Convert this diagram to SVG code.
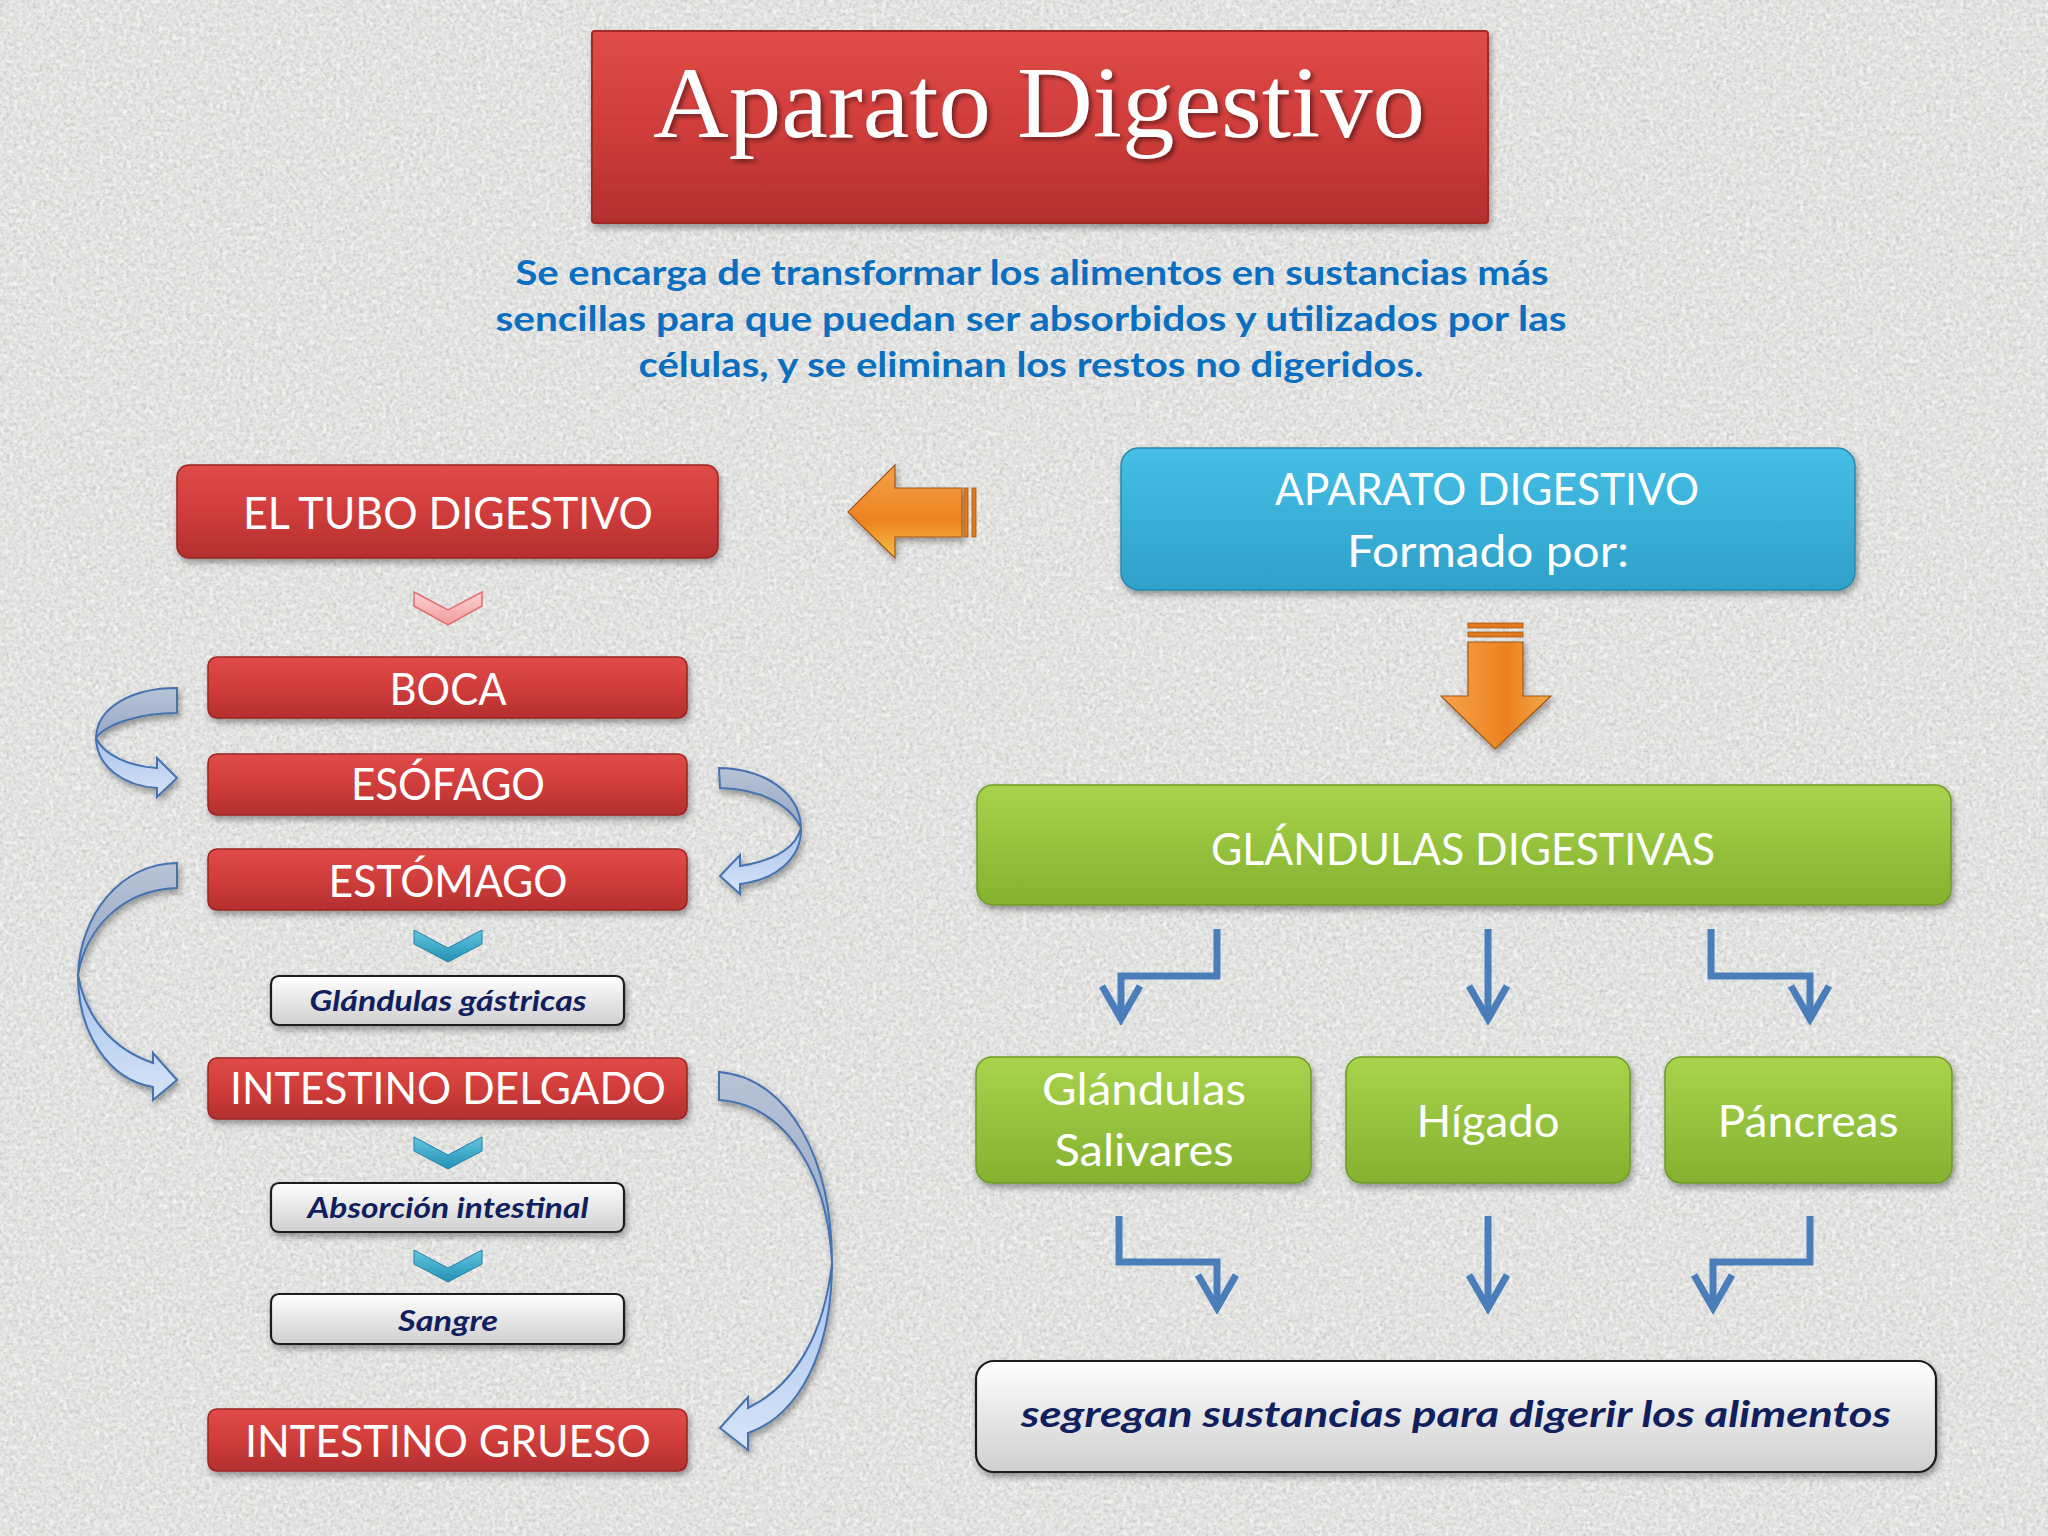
<svg xmlns="http://www.w3.org/2000/svg" width="2048" height="1536" viewBox="0 0 2048 1536">
<defs>
  <filter id="noise" x="0" y="0" width="100%" height="100%">
    <feTurbulence type="fractalNoise" baseFrequency="0.3" numOctaves="3" seed="7" result="t"/>
    <feColorMatrix in="t" type="matrix" values="0 0 0 0 0.45  0 0 0 0 0.45  0 0 0 0 0.45  2.2 0 0 0 -0.95"/>
  </filter>
  <filter id="noise2" x="0" y="0" width="100%" height="100%">
    <feTurbulence type="fractalNoise" baseFrequency="0.22" numOctaves="2" seed="19" result="t"/>
    <feColorMatrix in="t" type="matrix" values="0 0 0 0 1  0 0 0 0 1  0 0 0 0 1  2.4 0 0 0 -1.05"/>
  </filter>
  <filter id="sh" x="-10%" y="-20%" width="120%" height="160%">
    <feDropShadow dx="2" dy="4" stdDeviation="3" flood-color="#000" flood-opacity="0.35"/>
  </filter>
  <filter id="tsh" x="-10%" y="-20%" width="120%" height="160%">
    <feDropShadow dx="3" dy="3" stdDeviation="2" flood-color="#000" flood-opacity="0.45"/>
  </filter>
  <linearGradient id="red" x1="0" y1="0" x2="0" y2="1">
    <stop offset="0" stop-color="#e04b48"/>
    <stop offset="0.5" stop-color="#d03d3b"/>
    <stop offset="1" stop-color="#b32f2e"/>
  </linearGradient>
  <linearGradient id="blue" x1="0" y1="0" x2="0" y2="1">
    <stop offset="0" stop-color="#45bfe6"/>
    <stop offset="1" stop-color="#2fa0c9"/>
  </linearGradient>
  <linearGradient id="green" x1="0" y1="0" x2="0" y2="1">
    <stop offset="0" stop-color="#a8d34c"/>
    <stop offset="1" stop-color="#84b22f"/>
  </linearGradient>
  <linearGradient id="gray" x1="0" y1="0" x2="0" y2="1">
    <stop offset="0" stop-color="#ffffff"/>
    <stop offset="1" stop-color="#cfcfcf"/>
  </linearGradient>
  <linearGradient id="bandBack" x1="0" y1="0" x2="0" y2="1">
    <stop offset="0" stop-color="#b7c3d6"/>
    <stop offset="1" stop-color="#97a8c4"/>
  </linearGradient>
  <linearGradient id="bandFront" x1="0" y1="0" x2="0" y2="1">
    <stop offset="0" stop-color="#a7c2ec"/>
    <stop offset="1" stop-color="#d6e4f8"/>
  </linearGradient>
  <linearGradient id="orangeH" x1="0" y1="0" x2="0" y2="1">
    <stop offset="0" stop-color="#f6a14c"/>
    <stop offset="0.6" stop-color="#ec8420"/>
    <stop offset="1" stop-color="#f9c247"/>
  </linearGradient>
  <linearGradient id="orangeV" x1="0" y1="0" x2="1" y2="0">
    <stop offset="0" stop-color="#f7a34e"/>
    <stop offset="0.6" stop-color="#ec8120"/>
    <stop offset="1" stop-color="#f3aa4a"/>
  </linearGradient>
  <linearGradient id="cyan" x1="0" y1="0" x2="0" y2="1">
    <stop offset="0" stop-color="#63c6e0"/>
    <stop offset="1" stop-color="#2390b4"/>
  </linearGradient>
  <linearGradient id="pink" x1="0" y1="0" x2="0" y2="1">
    <stop offset="0" stop-color="#fbd3d3"/>
    <stop offset="1" stop-color="#f29a9a"/>
  </linearGradient>
  <marker id="head" markerUnits="userSpaceOnUse" viewBox="-40 -25 46 50" markerWidth="46" markerHeight="50" refX="0" refY="0" orient="auto">
    <path d="M-33,-19 L0,0 L-33,19" fill="none" stroke="#4a7ebb" stroke-width="7"/>
  </marker>
  <style>
    .red{fill:url(#red);stroke:#9a2524;stroke-width:1.5;filter:url(#sh)}
    .grn{fill:url(#green);stroke:#6f9a26;stroke-width:1.5;filter:url(#sh)}
    .gry{fill:url(#gray);stroke:#1c1c1c;stroke-width:2.2;filter:url(#sh)}
    .wt{font-family:Lato,"Liberation Sans",sans-serif;fill:#ffffff;font-size:45px;text-anchor:middle}
    .it{font-family:Lato,"Liberation Sans",sans-serif;fill:#10205e;font-weight:bold;font-style:italic;text-anchor:middle}
    .desc{font-family:Lato,"Liberation Sans",sans-serif;fill:#0a6fc0;font-weight:bold;font-size:35px;text-anchor:middle}
    .elb{fill:none;stroke:#4a7ebb;stroke-width:7;marker-end:url(#head)}
    .bb{fill:url(#bandBack);stroke:#4472b0;stroke-width:2}
    .bf{fill:url(#bandFront);stroke:#4472b0;stroke-width:2}
    .chev{fill:url(#cyan);stroke:#1f84a8;stroke-width:1}
    .orn{stroke:#a65618;stroke-width:1.2;filter:url(#sh)}
  </style>
</defs>

<!-- background -->
<rect x="0" y="0" width="2048" height="1536" fill="#e3e3e1"/>
<rect x="0" y="0" width="2048" height="1536" filter="url(#noise)" opacity="0.6"/>
<rect x="0" y="0" width="2048" height="1536" filter="url(#noise2)" opacity="0.7"/>

<!-- title -->
<g id="title">
  <rect x="592" y="31" width="896" height="192" rx="3" fill="url(#red)" stroke="#a02a28" stroke-width="2" filter="url(#sh)"/>
  <text x="1039" y="137" font-family="Liberation Serif,serif" font-size="101" fill="#ffffff" text-anchor="middle" textLength="772" lengthAdjust="spacingAndGlyphs" filter="url(#tsh)">Aparato Digestivo</text>
</g>

<g id="description">
  <text class="desc" x="1032" y="285" textLength="1033" lengthAdjust="spacingAndGlyphs">Se encarga de transformar los alimentos en sustancias más</text>
  <text class="desc" x="1031" y="331" textLength="1071" lengthAdjust="spacingAndGlyphs">sencillas para que  puedan ser absorbidos y utilizados por las</text>
  <text class="desc" x="1031" y="377" textLength="785" lengthAdjust="spacingAndGlyphs">células, y se eliminan los restos no digeridos.</text>
</g>

<!-- connectors -->
<g id="connectors">
  <!-- orange left arrow -->
  <g id="orange-left">
    <polygon class="orn" points="848,512 895,465 895,488 962,488 962,537 895,537 895,558" fill="url(#orangeH)"/>
    <rect x="964" y="488" width="4" height="49" fill="#e07a1c" stroke="#a65618" stroke-width="0.8"/>
    <rect x="972" y="488" width="4" height="49" fill="#e07a1c" stroke="#a65618" stroke-width="0.8"/>
  </g>
  <!-- orange down arrow -->
  <g id="orange-down">
    <rect x="1468" y="623" width="55" height="5" fill="#e07a1c" stroke="#a65618" stroke-width="0.8"/>
    <rect x="1468" y="632" width="55" height="5" fill="#e07a1c" stroke="#a65618" stroke-width="0.8"/>
    <polygon class="orn" points="1468,642 1523,642 1523,696 1551,696 1495,749 1441,696 1468,696" fill="url(#orangeV)"/>
  </g>
  <!-- chevrons -->
  <polygon points="414,592 448,610 482,592 482,606 448,625 414,606" fill="url(#pink)" stroke="#e46e6e" stroke-width="1.5"/>
  <polygon class="chev" points="414,930 448,948 482,930 482,944 448,962 414,944"/>
  <polygon class="chev" points="414,1137 448,1155 482,1137 482,1151 448,1169 414,1151"/>
  <polygon class="chev" points="414,1250 448,1268 482,1250 482,1264 448,1282 414,1264"/>

  <!-- curved arrow BOCA -> ESOFAGO -->
  <g id="curve1" filter="url(#sh)">
    <path class="bb" d="M177,688 C132,688 97,707 96,738 C106,724 140,713 177,713 Z"/>
    <path class="bf" d="M96,738 C97,768 125,786 157,788 L157,797 L177,778 L157,758 L157,768 C128,766 104,755 96,738 Z"/>
  </g>
  <!-- curved arrow ESOFAGO -> ESTOMAGO -->
  <g id="curve2" filter="url(#sh)">
    <path class="bb" d="M719,768 C764,769 800,792 801,828 C790,804 760,789 720,788 Z"/>
    <path class="bf" d="M801,828 C802,858 776,880 740,884 L740,894 L720,876 L740,855 L740,866 C772,861 795,850 801,828 Z"/>
  </g>
  <!-- curved arrow ESTOMAGO -> INTESTINO DELGADO -->
  <g id="curve3" filter="url(#sh)">
    <path class="bb" d="M177,863 C120,864 80,915 78,975 C86,930 120,890 177,888 Z"/>
    <path class="bf" d="M78,975 C78,1035 110,1080 153,1087 L153,1100 L177,1080 L153,1053 L153,1063 C115,1050 86,1020 78,975 Z"/>
  </g>
  <!-- curved arrow INTESTINO DELGADO -> INTESTINO GRUESO -->
  <g id="curve4" filter="url(#sh)">
    <path class="bb" d="M719,1072 C790,1078 832,1160 832,1263 C828,1180 790,1105 719,1100 Z"/>
    <path class="bf" d="M832,1263 C832,1350 800,1415 748,1433 L748,1450 L720,1428 L748,1397 L748,1408 C795,1385 824,1335 832,1263 Z"/>
  </g>

  <!-- elbow connectors -->
  <path class="elb" d="M1217,929 V976 H1121 V1019"/>
  <path class="elb" d="M1488,929 V1019"/>
  <path class="elb" d="M1711,929 V976 H1810 V1019"/>
  <path class="elb" d="M1119,1216 V1262 H1217 V1308"/>
  <path class="elb" d="M1488,1216 V1308"/>
  <path class="elb" d="M1810,1216 V1262 H1713 V1308"/>
</g>

<!-- left column nodes -->
<g id="tubo">
  <rect class="red" x="177" y="465" width="541" height="93" rx="12"/>
  <text class="wt" x="448" y="529" textLength="410" lengthAdjust="spacingAndGlyphs">EL TUBO DIGESTIVO</text>
</g>
<g id="boca">
  <rect class="red" x="208" y="657" width="479" height="61" rx="9"/>
  <text class="wt" x="448" y="705" textLength="117" lengthAdjust="spacingAndGlyphs">BOCA</text>
</g>
<g id="esofago">
  <rect class="red" x="208" y="754" width="479" height="61" rx="9"/>
  <text class="wt" x="448" y="800" textLength="194" lengthAdjust="spacingAndGlyphs">ESÓFAGO</text>
</g>
<g id="estomago">
  <rect class="red" x="208" y="849" width="479" height="61" rx="9"/>
  <text class="wt" x="448" y="897" textLength="239" lengthAdjust="spacingAndGlyphs">ESTÓMAGO</text>
</g>
<g id="glandulas-gastricas">
  <rect class="gry" x="271" y="976" width="353" height="49" rx="8"/>
  <text class="it" x="448" y="1011" font-size="29" textLength="277" lengthAdjust="spacingAndGlyphs">Glándulas gástricas</text>
</g>
<g id="intestino-delgado">
  <rect class="red" x="208" y="1058" width="479" height="61" rx="9"/>
  <text class="wt" x="448" y="1104" textLength="436" lengthAdjust="spacingAndGlyphs">INTESTINO DELGADO</text>
</g>
<g id="absorcion">
  <rect class="gry" x="271" y="1183" width="353" height="49" rx="8"/>
  <text class="it" x="448" y="1218" font-size="29" textLength="281" lengthAdjust="spacingAndGlyphs">Absorción intestinal</text>
</g>
<g id="sangre">
  <rect class="gry" x="271" y="1294" width="353" height="50" rx="8"/>
  <text class="it" x="448" y="1331" font-size="29" textLength="100" lengthAdjust="spacingAndGlyphs">Sangre</text>
</g>
<g id="intestino-grueso">
  <rect class="red" x="208" y="1409" width="479" height="62" rx="9"/>
  <text class="wt" x="448" y="1457" textLength="406" lengthAdjust="spacingAndGlyphs">INTESTINO GRUESO</text>
</g>

<!-- right column nodes -->
<g id="aparato">
  <rect x="1121" y="448" width="734" height="142" rx="18" fill="url(#blue)" stroke="#2689ad" stroke-width="1.5" filter="url(#sh)"/>
  <text class="wt" x="1487" y="505" textLength="424" lengthAdjust="spacingAndGlyphs">APARATO DIGESTIVO</text>
  <text class="wt" x="1488" y="567" textLength="282" lengthAdjust="spacingAndGlyphs">Formado por:</text>
</g>
<g id="glandulas-digestivas">
  <rect class="grn" x="977" y="785" width="974" height="120" rx="16"/>
  <text class="wt" x="1463" y="865" textLength="504" lengthAdjust="spacingAndGlyphs">GLÁNDULAS DIGESTIVAS</text>
</g>
<g id="salivares">
  <rect class="grn" x="976" y="1057" width="335" height="126" rx="16"/>
  <text class="wt" x="1144" y="1105" textLength="204" lengthAdjust="spacingAndGlyphs">Glándulas</text>
  <text class="wt" x="1144" y="1166" textLength="179" lengthAdjust="spacingAndGlyphs">Salivares</text>
</g>
<g id="higado">
  <rect class="grn" x="1346" y="1057" width="284" height="126" rx="16"/>
  <text class="wt" x="1488" y="1137" textLength="143" lengthAdjust="spacingAndGlyphs">Hígado</text>
</g>
<g id="pancreas">
  <rect class="grn" x="1665" y="1057" width="287" height="126" rx="16"/>
  <text class="wt" x="1808" y="1137" textLength="181" lengthAdjust="spacingAndGlyphs">Páncreas</text>
</g>
<g id="segregan">
  <rect class="gry" x="976" y="1361" width="960" height="111" rx="18"/>
  <text class="it" x="1456" y="1427" font-size="37" textLength="870" lengthAdjust="spacingAndGlyphs">segregan sustancias para digerir los alimentos</text>
</g>
</svg>
